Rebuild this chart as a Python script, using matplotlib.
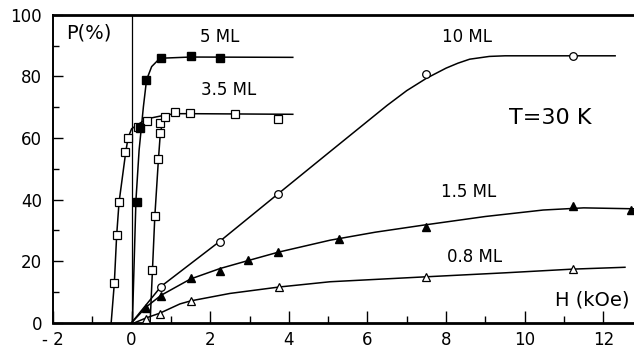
import numpy as np
import matplotlib
matplotlib.use("Agg")
import matplotlib.pyplot as plt
from matplotlib.ticker import MultipleLocator, FuncFormatter

# --- measured points (H in kOe, P in %) ---
h_5ml = [0.13, 0.21, 0.36, 0.74, 1.50, 2.25]
p_5ml = [39.3, 63.2, 78.9, 85.9, 86.5, 86.1]

h_35ml = [-0.44, -0.38, -0.32, -0.17, -0.09, 0.17, 0.38, 0.53, 0.59, 0.68,
          0.72, 0.72, 0.85, 1.10, 1.48, 2.64, 3.73]
p_35ml = [12.8, 28.5, 39.1, 55.6, 59.9, 63.5, 65.6, 17.1, 34.5, 53.1,
          61.7, 65.0, 66.7, 68.6, 68.0, 67.8, 66.2]

h_10ml = [0.75, 2.25, 3.73, 7.49, 11.22]
p_10ml = [11.7, 26.3, 41.7, 80.9, 86.5]

h_15ml = [0.36, 0.75, 1.50, 2.25, 2.97, 3.73, 5.28, 7.48, 11.22, 12.70]
p_15ml = [4.9, 8.7, 14.4, 16.9, 20.4, 22.9, 27.2, 31.0, 38.0, 36.6]

h_08ml = [0.36, 0.72, 1.51, 3.76, 7.48, 11.22]
p_08ml = [1.2, 2.8, 7.1, 11.5, 14.8, 17.5]

# --- hand-drawn guide curves ---
ch_5ml = [0.02, 0.11, 0.19, 0.30, 0.38, 0.51, 0.72, 1.50, 4.10]
cp_5ml = [0.0, 39.8, 56.0, 70.2, 78.9, 83.2, 85.9, 86.3, 86.2]

ch_35a = [-0.52, -0.44, -0.38, -0.32, -0.15, -0.09, 0.00, 0.15, 0.38, 0.76,
          1.10, 1.50, 4.10]
cp_35a = [0.0, 12.8, 28.5, 39.1, 55.4, 60.1, 63.0, 64.3, 66.2, 67.2,
          67.9, 67.9, 67.7]
ch_35b = [0.47, 0.53, 0.59, 0.68, 0.73, 0.80, 0.95]
cp_35b = [0.0, 17.1, 34.5, 52.7, 61.5, 65.9, 67.4]

ch_10ml = [0.0, 0.75, 2.25, 3.73, 5.05, 6.50, 7.00, 7.50, 8.00, 8.30, 8.60,
           9.10, 9.50, 12.30]
cp_10ml = [0.0, 11.8, 26.5, 41.9, 55.6, 70.6, 75.4, 79.4, 82.7, 84.3, 85.6,
           86.5, 86.7, 86.7]

ch_15ml = [0.0, 0.38, 0.75, 1.23, 1.50, 2.25, 2.97, 3.73, 5.05, 6.20, 7.48,
           9.00, 10.47, 11.50, 12.78]
cp_15ml = [0.0, 5.2, 8.9, 12.3, 14.2, 17.6, 20.2, 22.9, 26.8, 29.4, 31.8,
           34.5, 36.6, 37.3, 37.0]

ch_08ml = [0.08, 0.38, 0.72, 1.23, 1.51, 2.50, 3.76, 5.05, 7.48, 9.50,
           11.22, 12.55]
cp_08ml = [0.0, 1.6, 3.1, 6.1, 7.1, 9.5, 11.6, 13.3, 14.9, 16.2, 17.4, 18.0]

plt.rcParams['font.family'] = ['DejaVu Sans']

fig = plt.figure(figsize=(6.34, 3.49), dpi=100)
ax = fig.add_axes([0.0836, 0.0754, 0.9164, 0.882])

lw = 1.1
for cx, cy in [(ch_5ml, cp_5ml), (ch_35a, cp_35a), (ch_35b, cp_35b),
               (ch_10ml, cp_10ml), (ch_15ml, cp_15ml), (ch_08ml, cp_08ml)]:
    ax.plot(cx, cy, color='black', lw=lw, zorder=2)

ms = 5.5
ax.plot(h_35ml, p_35ml, 's', ms=ms, mfc='white', mec='black', mew=0.9, zorder=3)
ax.plot(h_5ml, p_5ml, 's', ms=ms, mfc='black', mec='black', zorder=4)
ax.plot(h_10ml, p_10ml, 'o', ms=ms, mfc='white', mec='black', mew=0.9, zorder=3)
ax.plot(h_15ml, p_15ml, '^', ms=ms + 0.5, mfc='black', mec='black', zorder=3)
ax.plot(h_08ml, p_08ml, '^', ms=ms + 0.5, mfc='white', mec='black', mew=0.9, zorder=3)

# vertical line at H = 0
ax.axvline(0, color='black', lw=0.9, zorder=1)

ax.set_xlim(-2, 12.78)
ax.set_ylim(0, 100)

ax.xaxis.set_major_locator(MultipleLocator(2))
ax.xaxis.set_minor_locator(MultipleLocator(1))
ax.yaxis.set_major_locator(MultipleLocator(20))
ax.yaxis.set_minor_locator(MultipleLocator(10))
ax.xaxis.set_major_formatter(FuncFormatter(lambda v, p: f"{int(round(v))}".replace('-', '- ')))
ax.tick_params(axis='both', which='both', direction='in', labelsize=12,
               top=False, right=False, width=1.0)
ax.tick_params(axis='x', which='major', length=9, pad=6)
ax.tick_params(axis='x', which='minor', length=5)
ax.tick_params(axis='y', which='major', length=7, pad=8)
ax.tick_params(axis='y', which='minor', length=4)

ax.spines['right'].set_visible(False)
ax.spines['top'].set_linewidth(2.0)
ax.spines['bottom'].set_linewidth(2.0)
ax.spines['left'].set_linewidth(1.4)
for s in ax.spines.values():
    s.set_clip_on(False)

ax.text(-1.1, 94, "P(%)", fontsize=14, ha='center', va='center')
ax.text(2.23, 92.8, "5 ML", fontsize=12, ha='center', va='center')
ax.text(2.47, 75.5, "3.5 ML", fontsize=12, ha='center', va='center')
ax.text(8.53, 92.7, "10 ML", fontsize=12, ha='center', va='center')
ax.text(10.65, 66.4, "T=30 K", fontsize=16, ha='center', va='center')
ax.text(8.58, 42.6, "1.5 ML", fontsize=12, ha='center', va='center')
ax.text(8.72, 21.5, "0.8 ML", fontsize=12, ha='center', va='center')
ax.text(11.71, 7.4, "H (kOe)", fontsize=14, ha='center', va='center')

fig.savefig("out.png", dpi=100)
